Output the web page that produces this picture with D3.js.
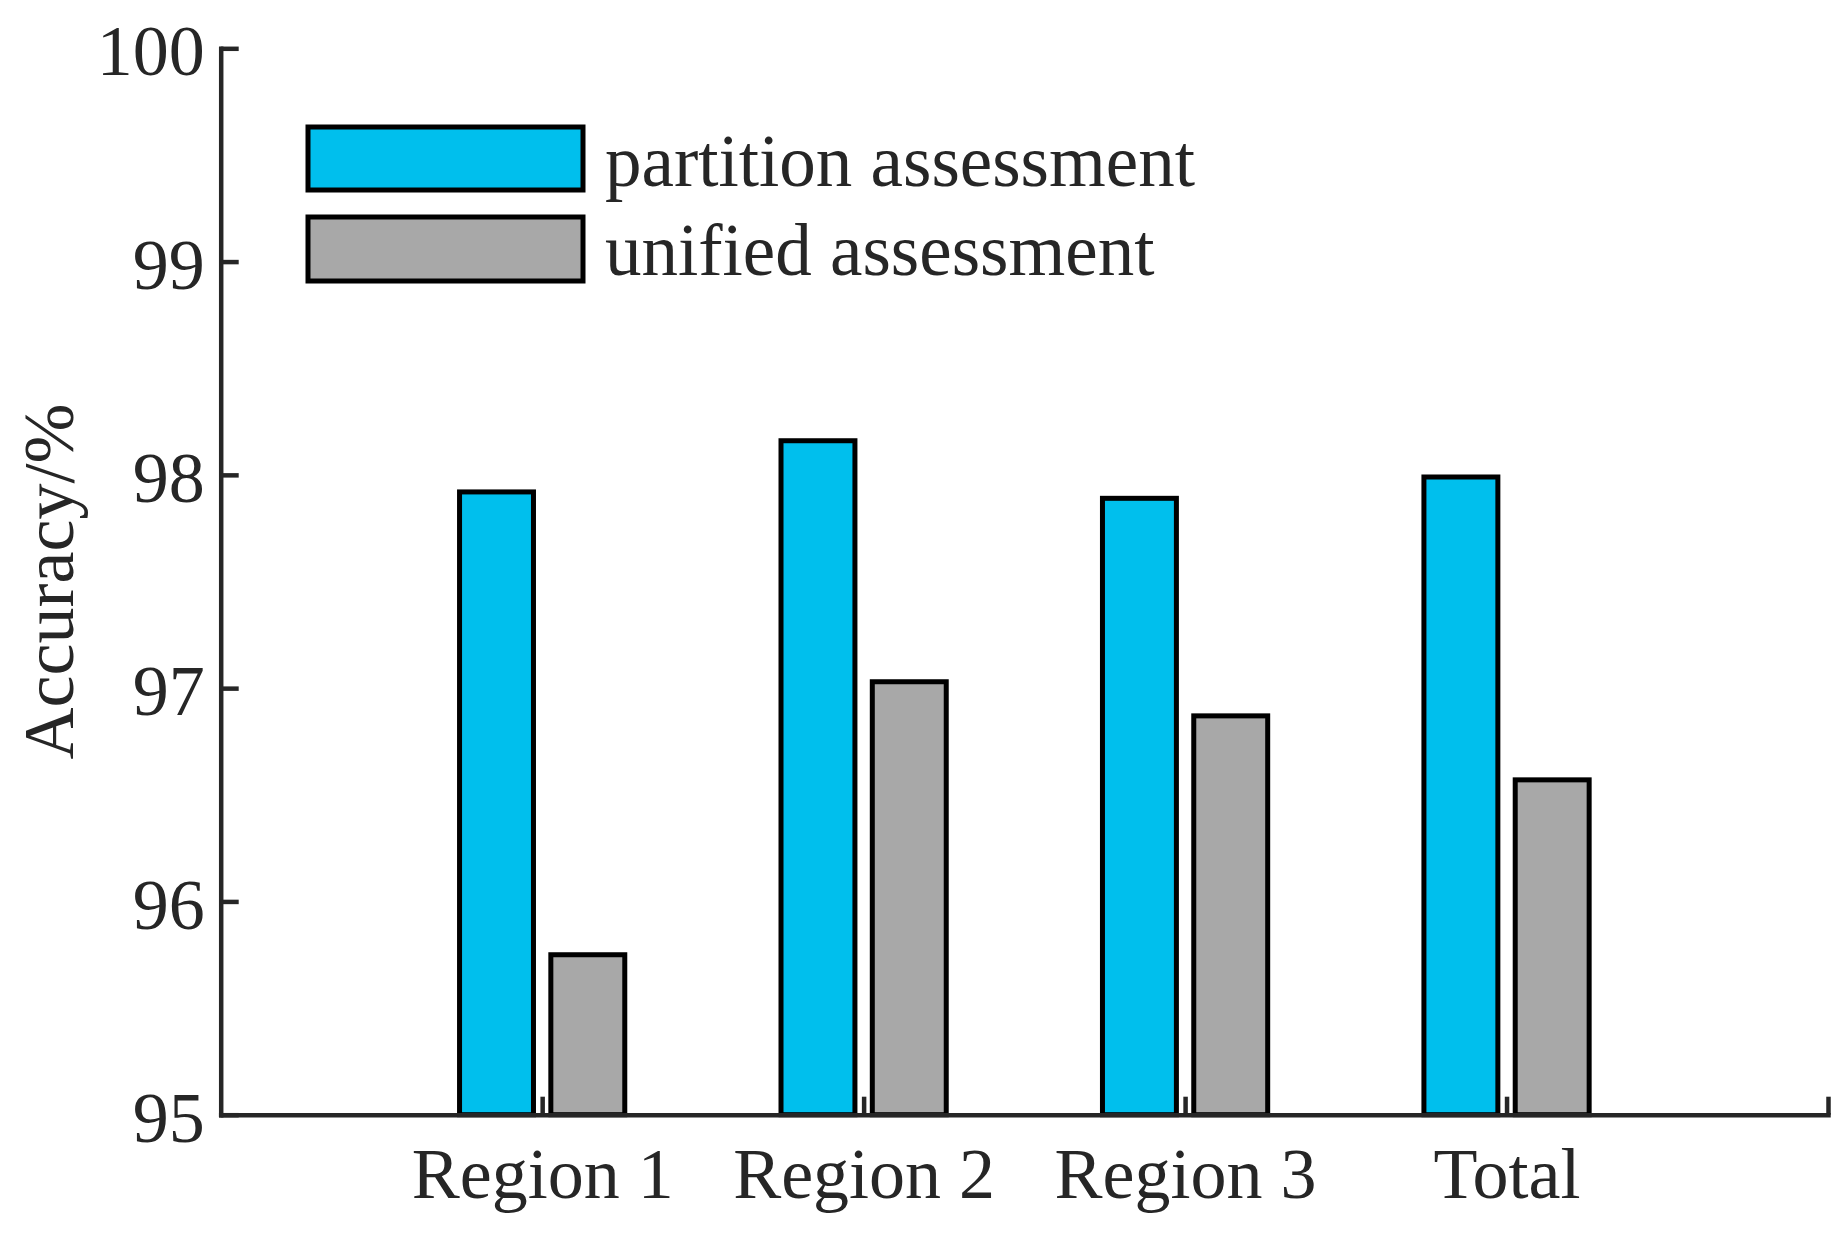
<!DOCTYPE html>
<html>
<head>
<meta charset="utf-8">
<script src="https://cdn.jsdelivr.net/npm/d3@7"></script>
<style>
  html, body { margin: 0; padding: 0; background: #ffffff; }
  svg { display: block; }
  text { font-family: "Liberation Serif", "Times New Roman", serif; fill: #262626; }
</style>
</head>
<body>
<script>
// ---- data ----
const categories = ["Region 1", "Region 2", "Region 3", "Total"];
const seriesNames = ["partition assessment", "unified assessment"];
const partitionValues = [97.92, 98.16, 97.89, 97.99];
const unifiedValues = [95.75, 97.03, 96.87, 96.57];
const yTicks = [95, 96, 97, 98, 99, 100];
const yLabel = "Accuracy/%";

const colors = ["#00BFED", "#A8A8A8"];
const W = 1846, H = 1233;
const svg = d3.select("body").append("svg").attr("width", W).attr("height", H);

const x = d3.scaleLinear().domain([0, 5]).range([220.7, 1828]);
const y = d3.scaleLinear().domain([95, 100]).range([1114.7, 48.3]);

const series = [partitionValues, unifiedValues];
const offsets = [-0.142, 0.142];
const barW = 0.23;
const FS = 72;

// bars
series.forEach((vals, si) => {
  svg.append("g").selectAll("rect").data(vals).join("rect")
    .attr("x", (d, i) => x(i + 1 + offsets[si] - barW / 2))
    .attr("width", (d, i) => x(i + 1 + offsets[si] + barW / 2) - x(i + 1 + offsets[si] - barW / 2))
    .attr("y", d => y(d))
    .attr("height", d => y(95) - y(d))
    .attr("fill", colors[si])
    .attr("stroke", "#000")
    .attr("stroke-width", 5);
});

// y axis
const gy = svg.append("g").attr("transform", `translate(${x(0)},0)`)
  .call(d3.axisLeft(y).tickValues(yTicks).tickFormat(d3.format("d"))
    .tickSizeInner(-18).tickSizeOuter(0).tickPadding(16));
gy.select(".domain").attr("stroke", "#262626").attr("stroke-width", 4.5).attr("stroke-linecap", "square");
gy.selectAll(".tick line").attr("stroke", "#262626").attr("stroke-width", 4.5);
gy.selectAll(".tick text").attr("font-size", FS).attr("dy", "0.37em")
  .style("font-family", "'Liberation Serif', serif").attr("fill", "#262626");

// x axis
const gx = svg.append("g").attr("transform", `translate(0,${y(95)})`)
  .call(d3.axisBottom(x).tickValues([1, 2, 3, 4, 5])
    .tickFormat(d => categories[d - 1] || "")
    .tickSizeInner(-18).tickSizeOuter(0).tickPadding(32));
gx.select(".domain").attr("stroke", "#262626").attr("stroke-width", 4.5).attr("stroke-linecap", "square");
gx.selectAll(".tick line").attr("stroke", "#262626").attr("stroke-width", 4.5);
gx.selectAll(".tick text").attr("font-size", FS)
  .style("font-family", "'Liberation Serif', serif").attr("fill", "#262626");

// y label
svg.append("text")
  .attr("transform", `translate(73,${(y(95) + y(100)) / 2}) rotate(-90)`)
  .attr("text-anchor", "middle")
  .attr("font-size", FS)
  .text(yLabel);

// legend
const legendBoxes = [{ y0: 127, y1: 190, base: 186 }, { y0: 217, y1: 281, base: 275 }];
seriesNames.forEach((name, si) => {
  const b = legendBoxes[si];
  svg.append("rect")
    .attr("x", 308).attr("y", b.y0).attr("width", 275).attr("height", b.y1 - b.y0)
    .attr("fill", colors[si]).attr("stroke", "#000").attr("stroke-width", 5);
  svg.append("text").attr("x", 605).attr("y", b.base).attr("font-size", 73).attr("fill", "#000").text(name);
});
</script>
</body>
</html>
